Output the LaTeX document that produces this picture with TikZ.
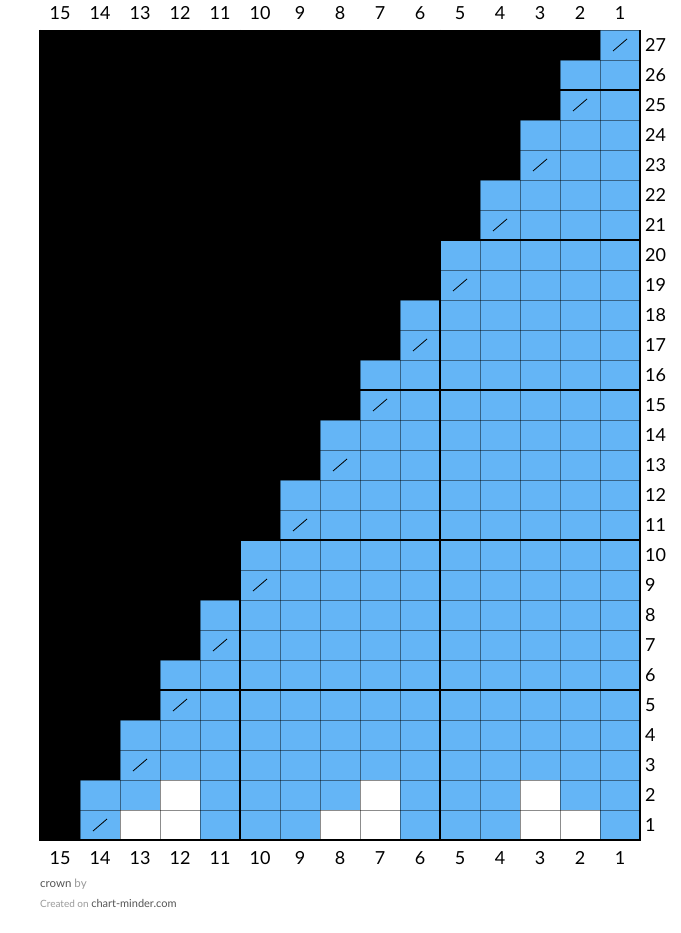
\documentclass[tikz,border=0pt]{standalone}
\usepackage{fontspec}
\setmainfont{Lato}
\definecolor{cellblue}{HTML}{64B5F6}
\definecolor{darktext}{HTML}{555555}
\definecolor{lighttext}{HTML}{9A9A9A}
\begin{document}
\begin{tikzpicture}[x=1pt,y=-1pt,
  gridthin/.style={draw=black,draw opacity=0.45,line width=0.8pt},
  gridthick/.style={draw=black,line width=2.4pt},
  numlabel/.style={font=\fontsize{18}{20}\selectfont,inner sep=0pt},
  slashline/.style={draw=black,line width=0.8pt}]
\useasboundingbox (0,0) rectangle (680,933);
\fill[white] (0,0) rectangle (680,933);
% background of no-stitch cells
\fill[black] (40,30) rectangle (640,840);
% blue cells
\foreach \r in {1,...,27} {
  \pgfmathtruncatemacro{\n}{floor((30-\r)/2)}
  \fill[cellblue] ({640-40*\n},{840-30*\r}) rectangle (640,{870-30*\r});
}
% white cells
\foreach \c/\r in {12/2,7/2,3/2,13/1,12/1,8/1,7/1,3/1,2/1} {
  \fill[white] ({640-40*\c},{840-30*\r}) rectangle ({680-40*\c},{870-30*\r});
}
% slash stitches
\foreach \r in {1,3,...,27} {
  \pgfmathtruncatemacro{\c}{(29-\r)/2}
  \draw[slashline] ({640-40*\c+13},{840-30*\r+21}) -- ({640-40*\c+27},{840-30*\r+9});
}
% thin grid
\foreach \i in {1,...,14} { \draw[gridthin] ({40+40*\i},30) -- ({40+40*\i},840); }
\foreach \j in {1,...,26} { \draw[gridthin] (40,{30+30*\j}) -- (640,{30+30*\j}); }
% thick grid
\foreach \xx in {240,440} { \draw[gridthick] (\xx,30) -- (\xx,840); }
\foreach \yy in {90,240,390,540,690} { \draw[gridthick] (40,\yy) -- (640,\yy); }
% border
\draw[gridthin] (40,30) -- (640,30);
\draw[gridthick] (40,30) -- (40,840) -- (640,840) -- (640,30);
% column labels
\foreach \c in {1,...,15} {
  \node[numlabel] (ct\c) at ({660-40*\c},13) {\c};
  \node[numlabel] (cb\c) at ({660-40*\c},858) {\c};
}
% row labels
\foreach \r in {1,...,27} {
  \node[numlabel,anchor=west] (rl\r) at (645,{855-30*\r}) {\r};
}
% footer
\node[anchor=west,inner sep=0pt,font=\fontsize{11.5}{13}\selectfont] (title) at (40,884)
  {\textcolor{darktext}{crown} \textcolor{lighttext}{by}};
\node[anchor=west,inner sep=0pt,font=\fontsize{11}{13}\selectfont] (credit) at (40,903)
  {\textcolor{lighttext}{\fontsize{10}{12}\selectfont Created on }\textcolor{darktext}{chart-minder.com}};
\end{tikzpicture}
\end{document}
